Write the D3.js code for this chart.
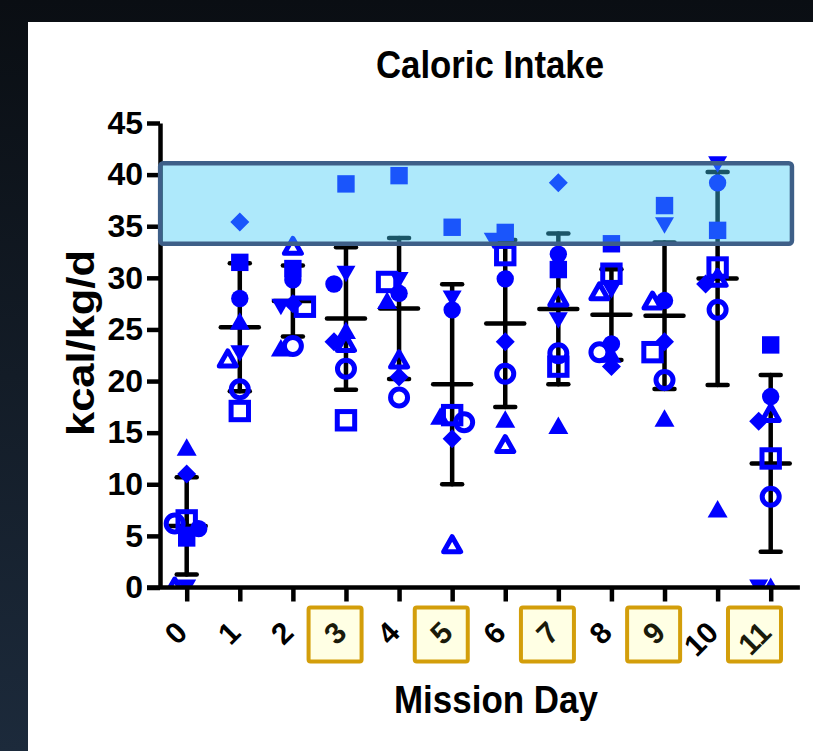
<!DOCTYPE html>
<html><head><meta charset="utf-8">
<script src="https://cdnjs.cloudflare.com/ajax/libs/d3/7.8.5/d3.min.js"></script>
<style>
html,body{margin:0;padding:0;background:#0e141b;overflow:hidden;}
svg{display:block;}
text{font-family:"Liberation Sans",Arial,Helvetica,sans-serif;font-weight:bold;}
</style></head><body>
<svg id="chart" width="813" height="751"></svg>
<script>
// ---------- data ----------
const days = [0,1,2,3,4,5,6,7,8,9,10,11];
const dayLabels = ["0","1","2","3","4","5","6","7","8","9","10","11"];
const highlightedDays = [3,5,7,9,11];
const yTicks = [0,5,10,15,20,25,30,35,40,45];
const targetBand = [33.3, 41.1];
const bandDays = [-0.5, 11.4];
const titleText = "Caloric Intake";
const xTitle = "Mission Day";
const yTitle = "kcal/kg/d";

// one value per mission day for each crew member (symbol)
const filledCircle   = [5.7, 28.0, 29.8, 29.4, 28.5, 26.9, 29.9, 32.3, 23.6, 27.8, 39.2, 18.5];
const filledSquare   = [4.8, 31.5, 30.9, 39.1, 39.9, 34.9, 34.4, 30.8, 33.3, 37.0, 34.6, 23.5];
const filledTriUp    = [13.5, 25.7, 23.1, 24.8, 27.7, 16.5, 16.2, 15.6, 22.5, 16.3, 7.5, 0];
const filledTriDown  = [0, 22.7, 27.2, 30.4, 29.8, 28.0, 33.6, 25.9, 28.8, 35.1, 41.0, 0];
const filledDiamond  = [11.0, 35.4, 27.5, 23.8, 20.4, 14.4, 23.8, 39.2, 21.4, 23.8, 29.4, 16.1];
const openCircle     = [6.2, 19.2, 23.4, 21.2, 18.4, 16.0, 20.7, 22.7, 22.8, 20.1, 26.9, 8.8];
const openSquare     = [6.5, 17.1, 27.2, 16.2, 29.6, 16.7, 32.2, 21.4, 30.4, 22.8, 31.0, 12.5];
const openTriUp      = [0, 22.1, 33.0, 23.6, 22.0, 4.1, 13.8, 28.0, 28.6, 27.7, 29.9, 16.8];

const series = [
  {symbol:"circleF", values: filledCircle},
  {symbol:"triUpF", values: filledTriUp},
  {symbol:"triDownF", values: filledTriDown},
  {symbol:"diamondF", values: filledDiamond},
  {symbol:"circleO", values: openCircle},
  {symbol:"triO", values: openTriUp},
  {symbol:"squareO", values: openSquare},
  {symbol:"squareF", values: filledSquare}
];

// ---------- layout ----------
const W = 813, H = 751;
const BLUE = "#0000ff";
const svg = d3.select("#chart");

const defs = svg.append("defs");
const lg = defs.append("linearGradient").attr("id","bg").attr("x1",0).attr("y1",0).attr("x2",0).attr("y2",1);
lg.append("stop").attr("offset","0%").attr("stop-color","#0a0e13");
lg.append("stop").attr("offset","100%").attr("stop-color","#1c2a3b");
svg.append("rect").attr("width",W).attr("height",H).attr("fill","url(#bg)");
svg.append("rect").attr("x",28).attr("y",22).attr("width",W-28).attr("height",H-22).attr("fill","#ffffff");

const x = d3.scaleLinear().domain([0,11]).range([186.7, 770.7]);
const y = d3.scaleLinear().domain([0,45]).range([587.5, 123]);
const axisX = 160;

defs.append("clipPath").attr("id","plotclip").append("rect")
  .attr("x",0).attr("y",0).attr("width",W).attr("height",y(0));

// title
svg.append("text").attr("x",490).attr("y",78).attr("text-anchor","middle")
  .attr("font-size",38).attr("textLength",228).attr("lengthAdjust","spacingAndGlyphs")
  .attr("fill","#000").text(titleText);

// y title
svg.append("text").attr("transform",`translate(80,343) rotate(-90)`)
  .attr("text-anchor","middle").attr("dominant-baseline","central")
  .attr("font-size",39).attr("textLength",186).attr("lengthAdjust","spacingAndGlyphs")
  .attr("fill","#000").text(yTitle);

// x title
svg.append("text").attr("x",496).attr("y",713).attr("text-anchor","middle")
  .attr("font-size",38).attr("textLength",204).attr("lengthAdjust","spacingAndGlyphs")
  .attr("fill","#000").text(xTitle);

// ---------- points & error bars ----------
const plot = svg.append("g").attr("clip-path","url(#plotclip)");

function dodge(pts){
  const order = pts.slice().sort((a,b)=>a.py-b.py);
  const placed = [];
  const step = 12, thrY = 11;
  for (const p of order){
    for (const k of [0,-1,1,-2,2,-3,3]){
      const off = k*step;
      if (!placed.some(q=>Math.abs(q.off-off)<step && Math.abs(q.py-p.py)<thrY)){ p.off = off; break; }
    }
    placed.push(p);
  }
  return pts;
}

const pointData = [];
days.forEach((d,di)=>{
  const vals = series.map((s,si)=>({day:d, si, symbol:s.symbol, v:s.values[di], py:y(s.values[di])}));
  dodge(vals);
  vals.forEach(p=>pointData.push(p));
  const arr = series.map(s=>s.values[di]);
  const m = d3.mean(arr), sd = d3.deviation(arr);
  const cx = x(d);
  const eb = plot.append("g").attr("stroke","#000").attr("stroke-width",4.5).attr("stroke-linecap","round");
  eb.append("line").attr("x1",cx).attr("x2",cx).attr("y1",y(m+sd)).attr("y2",y(Math.max(m-sd,0)));
  eb.append("line").attr("x1",cx-10).attr("x2",cx+10).attr("y1",y(m+sd)).attr("y2",y(m+sd));
  if (m-sd>0) eb.append("line").attr("x1",cx-10).attr("x2",cx+10).attr("y1",y(m-sd)).attr("y2",y(m-sd));
  eb.append("line").attr("x1",cx-19).attr("x2",cx+19).attr("y1",y(m)).attr("y2",y(m));
});

const shapes = {
  circleF: g=>g.append("circle").attr("r",8.7).attr("fill",BLUE),
  squareF: g=>g.append("rect").attr("x",-8.7).attr("y",-8.7).attr("width",17.4).attr("height",17.4).attr("fill",BLUE),
  triUpF: g=>g.append("path").attr("d","M0,-10L10,7.5L-10,7.5Z").attr("fill",BLUE),
  triDownF: g=>g.append("path").attr("d","M-9.5,-8L9.5,-8L0,8.5Z").attr("fill",BLUE),
  diamondF: g=>g.append("path").attr("d","M0,-9.5L9.5,0L0,9.5L-9.5,0Z").attr("fill",BLUE),
  circleO: g=>g.append("circle").attr("r",8.5).attr("fill","none").attr("stroke",BLUE).attr("stroke-width",5),
  squareO: g=>g.append("rect").attr("x",-8.7).attr("y",-8.7).attr("width",17.4).attr("height",17.4).attr("fill","none").attr("stroke",BLUE).attr("stroke-width",5),
  triO: g=>g.append("path").attr("d","M0,-8.5L8.5,6.5L-8.5,6.5Z").attr("fill","none").attr("stroke",BLUE).attr("stroke-width",5).attr("stroke-linejoin","round")
};

pointData.sort((a,b)=>a.si-b.si).forEach(p=>{
  const g = plot.append("g").attr("transform",`translate(${x(p.day)+p.off},${p.py})`);
  shapes[p.symbol](g);
});

// ---------- axes ----------
const yAxis = d3.axisLeft(y).tickValues(yTicks).tickSize(13).tickSizeOuter(0).tickPadding(4);
const yg = svg.append("g").attr("transform",`translate(${axisX},0)`).call(yAxis);
yg.select(".domain").attr("stroke","#000").attr("stroke-width",4.5);
yg.selectAll(".tick line").attr("stroke","#000").attr("stroke-width",4.5);
yg.selectAll(".tick text").attr("font-size",32).attr("fill","#000")
  .attr("font-family","Liberation Sans, Arial, sans-serif").attr("font-weight","bold");

// x axis line
svg.append("line").attr("x1",axisX-13).attr("x2",x(11.55)).attr("y1",y(0)).attr("y2",y(0))
  .attr("stroke","#000").attr("stroke-width",4.5);
const xAxis = d3.axisBottom(x).tickValues(days).tickSize(14).tickSizeOuter(0).tickFormat("");
const xg = svg.append("g").attr("transform",`translate(0,${y(0)})`).call(xAxis);
xg.select(".domain").remove();
xg.selectAll(".tick line").attr("stroke","#000").attr("stroke-width",4.5);

// x tick labels with highlight boxes
const lblG = svg.append("g");
days.forEach((d,i)=>{
  const ax = x(d)-5, ay = 627;
  const hl = highlightedDays.includes(d);
  const box = lblG.append("rect");
  const t = lblG.append("text").attr("transform",`translate(${ax},${ay}) rotate(-45)`)
    .attr("text-anchor","end").attr("dominant-baseline","central")
    .attr("font-size",30).attr("fill", hl ? "#1a1a0a" : "#000").text(dayLabels[i]);
  if (hl){
    const L = t.node().getComputedTextLength();
    const cx = ax - L/2*Math.SQRT1_2;
    box.attr("x",cx-26.5).attr("y",607.5).attr("width",53).attr("height",54).attr("rx",2)
      .attr("fill","#ffffe4").attr("stroke","#d39e0a").attr("stroke-width",4);
  } else box.remove();
});

// ---------- target band overlay ----------
svg.append("rect")
  .attr("x",x(bandDays[0])).attr("y",y(targetBand[1]))
  .attr("width",x(bandDays[1])-x(bandDays[0])).attr("height",y(targetBand[0])-y(targetBand[1]))
  .attr("rx",3).attr("fill","rgba(62,202,245,0.42)")
  .attr("stroke","#3e5f88").attr("stroke-width",4.5);
</script>
</body></html>
